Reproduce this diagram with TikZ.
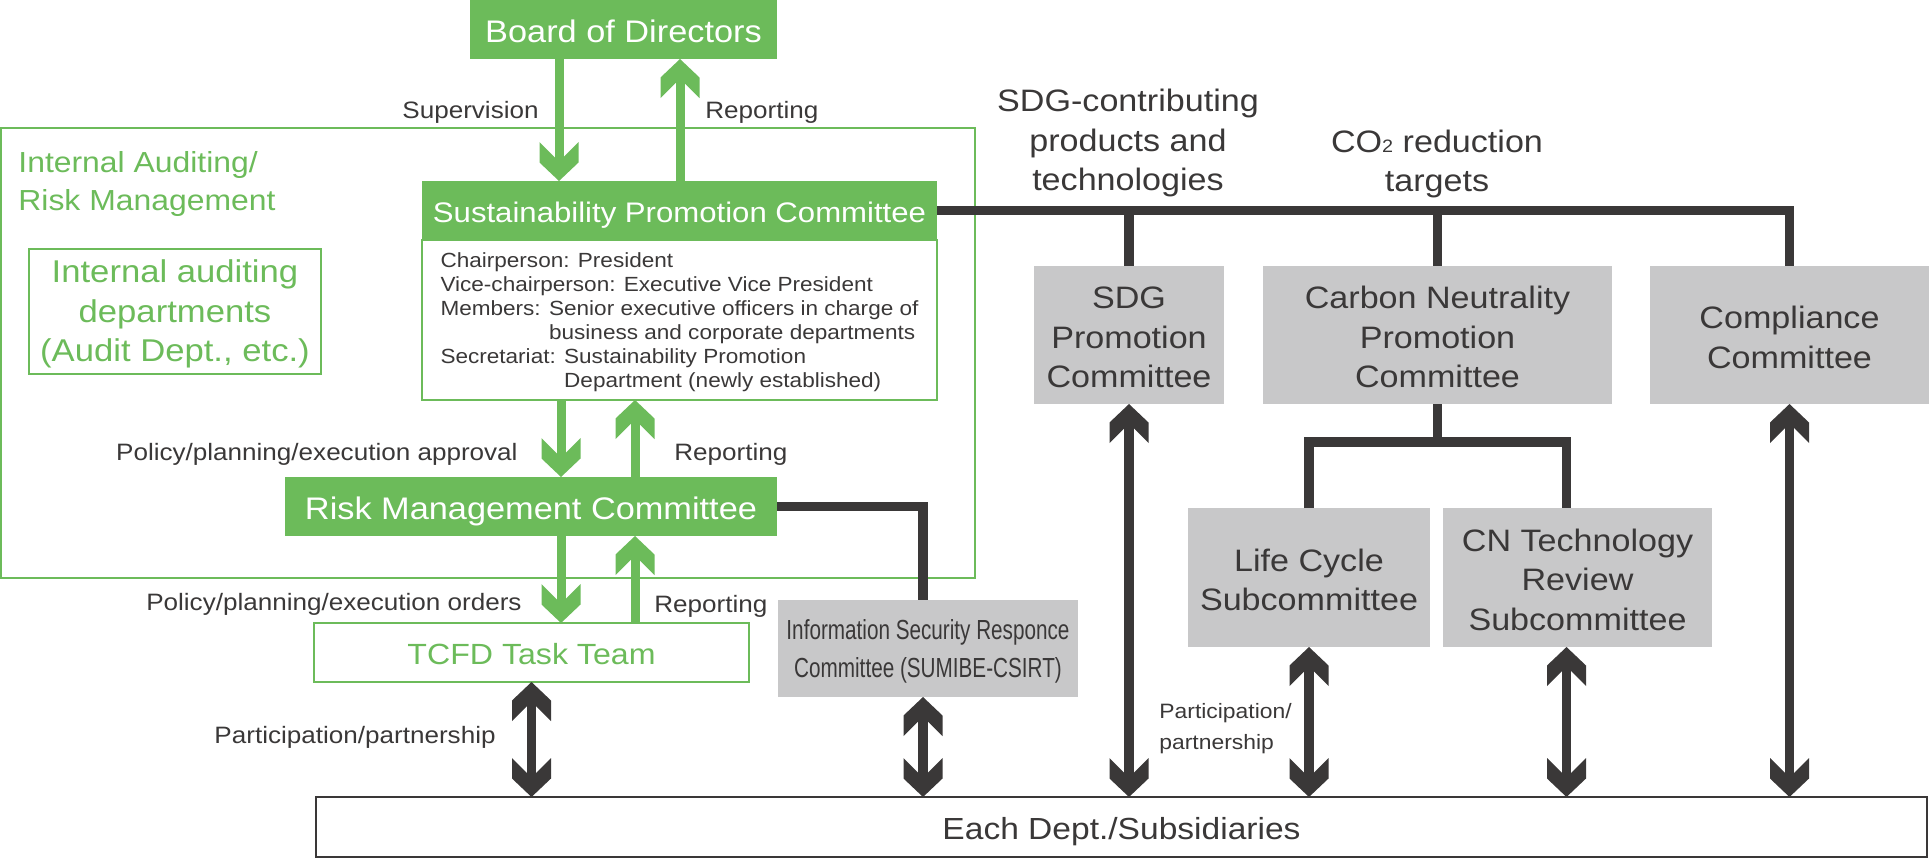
\documentclass[tikz,border=0pt]{standalone}
\usepackage{fontspec}
\setmainfont{Liberation Sans}[FakeStretch=1.1]
\newfontfamily\condfont{Liberation Sans}[FakeStretch=0.75]
\usetikzlibrary{calc}

\definecolor{gr}{RGB}{108,187,90}
\definecolor{dk}{RGB}{58,56,56}
\definecolor{gy}{RGB}{200,200,201}

\newcommand\fpx[2]{\fontsize{#1}{#2}\selectfont}
\newcommand\dnbig{\rule{0pt}{13.6pt}}

\pgfdeclarearrow{
  name = Chev,
  setup code = {
    \pgfarrowssettipend{0pt}
    \pgfarrowssetlineend{-10pt}
    \pgfarrowssetbackend{-19.5pt}
  },
  drawing code = {
    \pgfpathmoveto{\pgfqpoint{0pt}{0pt}}
    \pgfpathlineto{\pgfqpoint{-9.25pt}{9.75pt}}
    \pgfpathlineto{\pgfqpoint{-19.5pt}{9.75pt}}
    \pgfpathlineto{\pgfqpoint{-11.75pt}{2pt}}
    \pgfpathlineto{\pgfqpoint{-11.75pt}{-2pt}}
    \pgfpathlineto{\pgfqpoint{-19.5pt}{-9.75pt}}
    \pgfpathlineto{\pgfqpoint{-9.25pt}{-9.75pt}}
    \pgfpathclose
    \pgfusepathqfill
  }
}

\tikzset{
  box/.style={inner sep=0pt, outer sep=0pt, align=center},
  gfill/.style={box, fill=gr, text=white},
  gbox/.style={box, draw=gr, line width=1pt, text=gr},
  gybox/.style={box, fill=gy, text=dk, font=\fpx{15.5pt}{19.75pt}},
  conn/.style={draw=dk, line width=4.65pt},
  garrow/.style={draw=gr, line width=4.5pt, -Chev},
  darrow/.style={draw=dk, line width=4.65pt, Chev-Chev},
  lbl/.style={inner sep=0pt, text=dk, font=\fpx{11.85pt}{14pt}},
}

\begin{document}
\begin{tikzpicture}[x=0.5pt,y=-0.5pt]
\useasboundingbox (0,0) rectangle (1929,858);

% outer internal auditing / risk management frame
\draw[gr, line width=1pt] (1,128) rectangle (975,578);

% green nodes
\node[gfill, minimum width=153.5pt, minimum height=29.5pt, font=\fpx{15.6pt}{19pt}, text height=12.6pt, text depth=0pt] (board) at (623.5,29.5) {Board of Directors};
\node[gfill, minimum width=257.5pt, minimum height=29.5pt, font=\fpx{14.15pt}{18pt}, text height=11.8pt, text depth=0pt] (spch) at (679.5,210.5) {Sustainability Promotion Committee};
\node[box, draw=gr, line width=1.1pt, minimum width=257.5pt, minimum height=80pt, align=left, text=dk, font=\fpx{10.25pt}{12pt}] (spcb) at (679.5,320)
 {\rule{0pt}{9.9pt}Chairperson: President\\
  Vice-chairperson: Executive Vice President\\
  Members: Senior executive officers in charge of\\
  \phantom{Members: }business and corporate departments\\
  Secretariat: Sustainability Promotion\\
  \phantom{Secretariat: }Department (newly established)};
\node[gfill, minimum width=246pt, minimum height=29.5pt, font=\fpx{15.6pt}{19pt}, text height=12.9pt, text depth=0pt] (rmc) at (531,506.5) {Risk Management Committee};
\node[gbox, minimum width=217.5pt, minimum height=29.5pt, font=\fpx{14.6pt}{18pt}, text height=12.2pt, text depth=0pt] (tcfd) at (531.5,652.5) {TCFD Task Team};

\node[inner sep=0pt, anchor=west, align=left, text=gr, font=\fpx{14.5pt}{19pt}] (ialbl) at (18,183.5) {Internal Auditing/\\Risk Management};
\node[gbox, minimum width=146pt, minimum height=62.5pt, font=\fpx{15.75pt}{19.6pt}] (iad) at (175,311.5) {\rule{0pt}{13.8pt}Internal auditing\\departments\\(Audit Dept., etc.)};

% gray nodes
\node[gybox, minimum width=95pt, minimum height=69pt] (sdg) at (1129,335) {\dnbig SDG\\Promotion\\Committee};
\node[gybox, minimum width=174.5pt, minimum height=69pt] (cnpc) at (1437.5,335) {\dnbig Carbon Neutrality\\Promotion\\Committee};
\node[gybox, minimum width=139.5pt, minimum height=69pt] (comp) at (1789.5,335) {\dnbig Compliance\\Committee};
\node[gybox, minimum width=121pt, minimum height=69.5pt] (lc) at (1309,577.5) {\dnbig Life Cycle\\Subcommittee};
\node[gybox, minimum width=134.5pt, minimum height=69.5pt] (cnt) at (1577.5,577.5) {\dnbig CN Technology\\Review\\Subcommittee};
\node[gybox, minimum width=150pt, minimum height=48.5pt, font=\condfont\fpx{13.8pt}{19pt}] (info) at (928,648.5) {\rule{0pt}{13.1pt}Information Security Responce\\Committee (SUMIBE-CSIRT)};

\node[box, draw=dk, fill=white, line width=1.2pt, minimum width=805.5pt, minimum height=30pt, text=dk, font=\fpx{15.25pt}{19pt}, text height=12.6pt, text depth=0pt] (each) at (1121.5,827) {Each Dept./Subsidiaries};

% helper coordinates
\coordinate (a1) at (559,0);
\coordinate (a2) at (680,0);
\coordinate (a3) at (561,0);
\coordinate (a4) at (635,0);
\coordinate (ix) at ($(info.north)+(-5,0)$);
\coordinate (cnr) at ($(cnt.north)+(-11,0)$);

% green arrows
\draw[garrow] (board.south -| a1) -- (spch.north -| a1);
\draw[garrow] (spch.north -| a2) -- (board.south -| a2);
\draw[garrow] (spcb.south -| a3) -- (rmc.north -| a3);
\draw[garrow] (rmc.north -| a4) -- (spcb.south -| a4);
\draw[garrow] (rmc.south -| a3) -- (tcfd.north -| a3);
\draw[garrow] (tcfd.north -| a4) -- (rmc.south -| a4);

% black connectors
\draw[conn] (spch.east) -| (comp.north);
\draw[conn] (sdg.north |- spch.east) -- (sdg.north);
\draw[conn] (cnpc.north |- spch.east) -- (cnpc.north);
\draw[conn] (cnpc.south) -- ++(0,38) coordinate (cnj);
\draw[conn] (lc.north) |- (cnj) -| (cnr);
\draw[conn] (rmc.east) -| (ix);

% double arrows
\draw[darrow] (tcfd.south) -- (each.north -| tcfd.south);
\draw[darrow] (info.south -| ix) -- (each.north -| ix);
\draw[darrow] (sdg.south) -- (each.north -| sdg.south);
\draw[darrow] (lc.south) -- (each.north -| lc.south);
\draw[darrow] (cnt.south -| cnr) -- (each.north -| cnr);
\draw[darrow] (comp.south) -- (each.north -| comp.south);

% labels
\node[lbl, anchor=east] (sup) at (539,112.5) {Supervision};
\node[lbl, anchor=west] (rep1) at (705,112.5) {Reporting};
\node[lbl, anchor=east] (pol1) at (518,454.5) {Policy/planning/execution approval};
\node[lbl, anchor=west] (rep2) at (674,454.5) {Reporting};
\node[lbl, anchor=east] (pol2) at (522,604.5) {Policy/planning/execution orders};
\node[lbl, anchor=west] (rep3) at (654,606.5) {Reporting};
\node[lbl, anchor=east] (pp1) at (496,737.5) {Participation/partnership};
\node[lbl, anchor=west, align=left, font=\fpx{10.4pt}{15.5pt}] (pp2) at (1159,729) {Participation/\\partnership};
\node[inner sep=0pt, align=center, text=dk, font=\fpx{15.5pt}{19.6pt}] (sdgl) at (1128,143) {SDG-contributing\\products and\\technologies};
\node[inner sep=0pt, align=center, text=dk, font=\fpx{15.5pt}{19.5pt}] (col) at (1437,163.5) {CO{\fpx{9pt}{9pt}2} reduction\\targets};
\end{tikzpicture}
\end{document}
